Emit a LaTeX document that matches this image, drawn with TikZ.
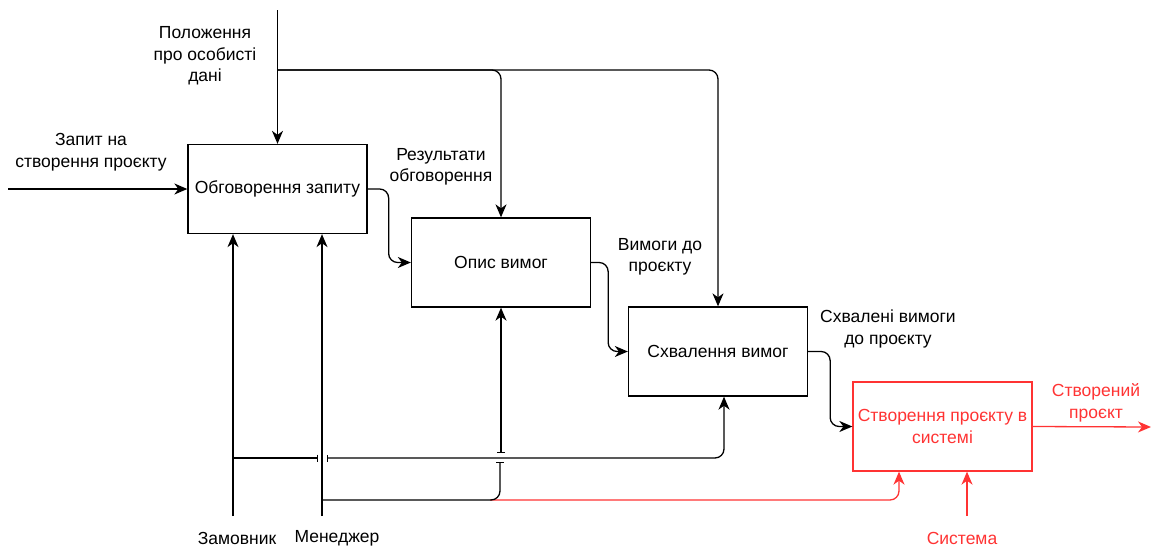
\documentclass[tikz,border=0pt]{standalone}
\usepackage{fontspec}
\setmainfont{Liberation Sans}
\usetikzlibrary{arrows.meta}
\definecolor{myred}{RGB}{255,51,51}
\begin{document}
\begin{tikzpicture}[x=1pt,y=-1pt, font=\fontsize{17.5}{21.5}\selectfont,
 box/.style={draw, line width=1.3pt, minimum width=179pt, minimum height=89pt, inner sep=0pt, align=center},
 conn/.style={line width=1.3pt, rounded corners=9pt},
 arr/.style={-{Stealth[length=13pt,width=11pt,inset=4pt]}},
 lbl/.style={align=center, inner sep=0pt}]
\useasboundingbox (0,0) rectangle (1151,549);

\node[box] (b1) at (277.5,189) {Обговорення запиту};
\node[box] (b2) at (501,262.5) {Опис вимог};
\node[box] (b3) at (718,351.5) {Схвалення вимог};
\node[box, draw=myred, text=myred] (b4) at (942.5,426.5) {Створення проєкту в\\системі};

\coordinate (inS) at (8,189);
\coordinate (ctrlS) at (277.5,10);
\coordinate (zam) at (233,516);
\coordinate (men) at (322,516);
\coordinate (sys) at (967,516);
\coordinate (outE) at (1151,427);
\coordinate (b3m) at ([xshift=6pt]b3.south);
\coordinate (b4m1) at ([xshift=-43.5pt]b4.south);
\coordinate (b4m2) at ([xshift=24.5pt]b4.south);

% labels
\node[lbl] (lctrl) at (205,56) {Положення\\про особисті\\дані};
\node[lbl] (lin) at (91,152) {Запит на\\створення проєкту};
\node[lbl] (l12) at (441,167) {Результати\\обговорення};
\node[lbl] (l23) at (660,257) {Вимоги до\\проєкту};
\node[lbl] (l34) at (888,329) {Схвалені вимоги\\до проєкту};
\node[lbl, text=myred] (lout) at (1096,403) {Створений\\проєкт};
\node[lbl] (lzam) at (237,538) {Замовник};
\node[lbl] (lmen) at (337,538) {Менеджер};
\node[lbl, text=myred] (lsys) at (962,538) {Система};

% inputs / controls
\draw[conn,arr] (inS) -- (b1.west);
\draw[conn,arr] (ctrlS) -- (b1.north);
\draw[conn,arr] (ctrlS |- 0,70) -| (b2.north);
\draw[conn,arr] (ctrlS |- 0,70) -| (b3.north);

% flow between boxes
\draw[conn,arr] (b1.east) -- ++(21,0) |- (b2.west);
\draw[conn,arr] (b2.east) -- ++(17,0) |- (b3.west);
\draw[conn,arr] (b3.east) -- ++(22,0) |- (b4.west);
\draw[conn,arr,myred] (b4.east) -- (outE);

% mechanisms
\draw[conn,arr,myred] (490,500) -| (b4m1);
\draw[conn,arr,myred] (sys) -- (b4m2);
\draw[conn,arr] (zam) -- (zam |- b1.south);
\draw[conn,arr] (men) -- (men |- b1.south);
\draw[conn,-{Bar[width=7pt]}] (zam |- 0,458) -- (318,458);
\draw[conn,{Bar[width=7pt]}-{Stealth[length=13pt,width=11pt,inset=4pt]}] (327,458) -| (b3m);
\draw[conn,-{Bar[width=8pt]}] (men |- 0,500) -| (500,462);
\draw[conn,{Bar[width=8pt]}-{Stealth[length=13pt,width=11pt,inset=4pt]}] (b2.south |- 0,453) -- (b2.south);
\end{tikzpicture}
\end{document}
